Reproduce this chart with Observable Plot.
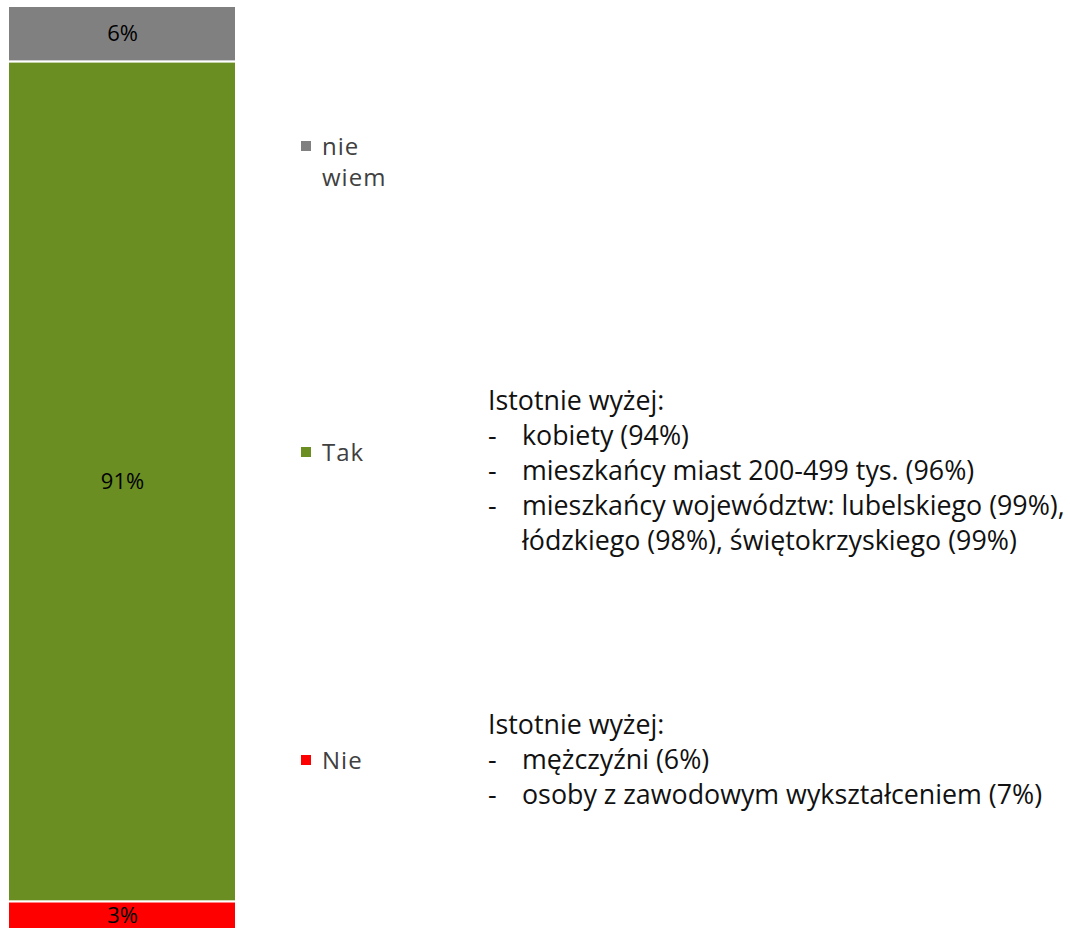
<!DOCTYPE html>
<html>
<head>
<meta charset="utf-8">
<script src="https://cdn.jsdelivr.net/npm/d3@7"></script>
<script src="https://cdn.jsdelivr.net/npm/@observablehq/plot@0.6"></script>
<style>
  html, body { margin: 0; padding: 0; background: #fff; }
  #wrap { position: relative; width: 1070px; height: 929px; overflow: hidden; }
  #wrap svg { position: absolute; left: 0; top: 0; }
  .leg { position: absolute; font-family: "Open Sans", sans-serif; font-size: 24px; letter-spacing: 1px; color: #404040; line-height: 31px; }
  .leg .sw { position: absolute; left: -21px; top: 11px; width: 10px; height: 10px; }
  .note { position: absolute; left: 488px; font-family: "Open Sans", sans-serif; font-size: 26.8px; color: #111; line-height: 35px; white-space: nowrap; }
  .note .it { position: relative; padding-left: 34px; }
  .note .it .d { position: absolute; left: 0; }
</style>
</head>
<body>
<div id="wrap"></div>
<script>
const categories = ["Nie", "Tak", "nie wiem"];
const values = [3, 91, 6];
const colors = ["#FF0000", "#6B8E23", "#808080"];
const legendLabels = ["nie wiem", "Tak", "Nie"];
const noteTak = ["Istotnie wyżej:", "kobiety (94%)", "mieszkańcy miast 200-499 tys. (96%)", "mieszkańcy województw: lubelskiego (99%),\nłódzkiego (98%), świętokrzyskiego (99%)"];
const noteNie = ["Istotnie wyżej:", "mężczyźni (6%)", "osoby z zawodowym wykształceniem (7%)"];

const data = categories.map((c, i) => ({q: "Q", cat: c, value: values[i]}));

const chart = Plot.plot({
  width: 1070,
  height: 929,
  marginTop: 6,
  marginBottom: 0,
  marginLeft: 0,
  marginRight: 0,
  x: {type: "band", domain: ["Q"], range: [8, 236], padding: 0, axis: null},
  y: {domain: [0, 100], axis: null},
  color: {domain: categories, range: colors},
  style: {fontFamily: "Open Sans, sans-serif"},
  marks: [
    Plot.barY(data, {x: "q", y: "value", fill: "cat", stroke: "white", strokeWidth: 2}),
    Plot.text(data, Plot.stackY({x: "q", y: "value", z: "cat", text: d => d.value + "%", fontSize: 22, fill: "black"}))
  ]
});
const wrap = document.getElementById("wrap");
wrap.appendChild(chart);

// legend
const legPos = [{top: 130}, {top: 436}, {top: 744}];
const legColors = ["#808080", "#6B8E23", "#FF0000"];
legendLabels.forEach((lab, i) => {
  const el = document.createElement("div");
  el.className = "leg";
  el.style.left = "322px";
  el.style.top = legPos[i].top + "px";
  if (lab === "nie wiem") { el.innerHTML = "nie<br>wiem"; }
  else el.textContent = lab;
  const sw = document.createElement("span");
  sw.className = "sw";
  sw.style.background = legColors[i];
  el.appendChild(sw);
  wrap.appendChild(el);
});

function addNote(lines, top) {
  const el = document.createElement("div");
  el.className = "note";
  el.style.top = top + "px";
  lines.forEach((t, i) => {
    const row = document.createElement("div");
    if (i === 0) { row.textContent = t; }
    else {
      row.className = "it";
      const parts = t.split("\n");
      row.innerHTML = '<span class="d">-</span>' + parts.join("<br>");
    }
    el.appendChild(row);
  });
  wrap.appendChild(el);
}
addNote(noteTak, 382);
addNote(noteNie, 706);
</script>
</body>
</html>
